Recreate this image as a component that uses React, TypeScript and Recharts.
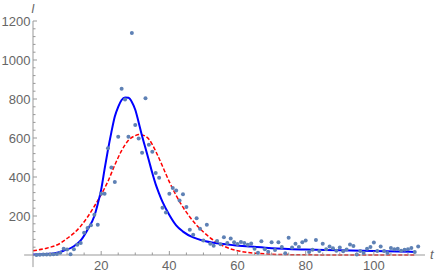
import React from "react";
import { ComposedChart, Line, Scatter, XAxis, YAxis, ReferenceLine } from "recharts";

// reported cases per day, starting at day 1
const dailyCases = [
  0, 1, 2, 2, 3, 4, 5, 12, 32, 28,
  4, 30, 52, 61, 114, 138, 152, 206, 155, 314,
  314, 548, 449, 375, 606, 853, 797, 606, 1138, 667,
  597, 524, 804, 565, 529, 420, 396, 242, 218, 314,
  343, 331, 280, 311, 246, 130, 104, 189, 135, 75,
  155, 58, 48, 72, 55, 91, 62, 85, 66, 57,
  67, 61, 53, 59, 32, 12, 71, 30, 17, 66,
  26, 65, 41, 9, 89, 38, 58, 41, 65, 75,
  15, 27, 77, 20, 58, 30, 44, 35, 22, 38,
  19, 28, 54, 46, 3, 20, 10, 32, 41, 64,
  20, 44, 20, 10, 36, 29, 32, 22, 27, 29,
  36, 15, 44,
];

// solid fit
const solidDays = [0, 3, 6, 9, 12, 14, 16, 18, 19, 20, 21, 22, 23, 24, 25, 26, 27, 28, 29, 30, 31, 32, 33, 34, 35, 36, 37, 38, 40, 42, 44, 47, 50, 54, 59, 64, 70, 80, 90, 100, 112];
const solidFit = [2, 4, 8, 22, 45, 75, 130, 200, 262, 335, 440, 540, 630, 710, 760, 795, 808, 806, 785, 745, 680, 610, 548, 485, 420, 362, 315, 272, 205, 152, 120, 90, 73, 60, 50, 43, 35, 28, 24, 20, 16];

// dashed fit
const dashedDays = [0, 4, 8, 10, 12, 14, 16, 18, 20, 22, 24, 26, 28, 30, 31, 32, 34, 36, 38, 40, 42, 44, 46, 48, 50, 52, 54, 56, 58, 60, 63, 66, 70, 75, 80, 90, 112];
const dashedFit = [22, 35, 60, 85, 112, 148, 195, 250, 310, 378, 462, 535, 588, 612, 618, 616, 594, 532, 455, 375, 305, 245, 195, 153, 118, 88, 63, 45, 31, 22, 13, 8, 4, 2, 1, 0, 0];

const xLabels = [20, 40, 60, 80, 100];
const yLabels = [200, 400, 600, 800, 1000, 1200];
const xTicks = Array.from({ length: 22 }, (_, i) => (i + 1) * 5);
const yTicks = Array.from({ length: 30 }, (_, i) => (i + 1) * 40);

const AXIS = "#999";
const TEXT = "#666";
const FONT = "'Liberation Sans', Arial, sans-serif";

const points = dailyCases.map((v, i) => ({ t: i + 1, v }));
const solidData = solidDays.map((t, i) => ({ t, v: solidFit[i] }));
const dashedData = dashedDays.map((t, i) => ({ t, v: dashedFit[i] }));

const XTick = (props: any) => {
  const { x, y, payload } = props;
  const major = xLabels.includes(payload.value);
  return (
    <g>
      <line x1={x} x2={x} y1={y} y2={y - (major ? 4 : 2.5)} stroke={AXIS} />
      {major && (
        <text x={x} y={y + 15} textAnchor="middle" fill={TEXT} fontSize={13} fontFamily={FONT}>
          {payload.value}
        </text>
      )}
    </g>
  );
};

const YTick = (props: any) => {
  const { x, y, payload } = props;
  const major = yLabels.includes(payload.value);
  return (
    <g>
      <line x1={x} x2={x + (major ? 4 : 2.5)} y1={y} y2={y} stroke={AXIS} />
      {major && (
        <text x={x - 2.5} y={y} dy="0.36em" textAnchor="end" fill={TEXT} fontSize={13} fontFamily={FONT}>
          {payload.value}
        </text>
      )}
    </g>
  );
};

const Dot = (props: any) => <circle cx={props.cx} cy={props.cy} r={2} fill="#5e81b5" />;

export default function App() {
  return (
    <div style={{ position: "absolute", left: 0, top: 0, width: 436, height: 274, background: "#fff" }}>
      <ComposedChart width={436} height={274} margin={{ top: 21, right: 11, left: 0, bottom: 0 }}>
        <XAxis
          type="number"
          dataKey="t"
          domain={[0, 115]}
          ticks={xTicks}
          interval={0}
          height={19}
          tickSize={0}
          tickMargin={0}
          tickLine={false}
          axisLine={{ stroke: AXIS }}
          tick={<XTick />}
          label={{
            content: (p: any) => (
              <text
                x={p.viewBox.x + p.viewBox.width + 5}
                y={p.viewBox.y + 3.5}
                fill={TEXT}
                fontSize={13}
                fontStyle="italic"
                fontFamily={FONT}
              >
                t
              </text>
            ),
          }}
        />
        <YAxis
          type="number"
          domain={[0, 1200]}
          ticks={yTicks}
          interval={0}
          width={33}
          tickSize={0}
          tickMargin={0}
          tickLine={false}
          axisLine={{ stroke: AXIS }}
          tick={<YTick />}
          label={{
            content: (p: any) => (
              <text
                x={p.viewBox.x + p.viewBox.width}
                y={p.viewBox.y - 8}
                textAnchor="middle"
                fill={TEXT}
                fontSize={12}
                fontStyle="italic"
                fontFamily={FONT}
              >
                I
              </text>
            ),
          }}
        />
        {/* axis stubs past the origin, as in the original */}
        <ReferenceLine segment={[{ x: 0, y: -62 }, { x: 0, y: 0 }]} stroke={AXIS} ifOverflow="visible" />
        <ReferenceLine segment={[{ x: -2.6, y: 0 }, { x: 0, y: 0 }]} stroke={AXIS} ifOverflow="visible" />
        <Scatter data={points} dataKey="v" shape={<Dot />} isAnimationActive={false} />
        <Line
          data={dashedData}
          dataKey="v"
          type="monotone"
          stroke="#ff0000"
          strokeWidth={1.5}
          strokeDasharray="4 2"
          dot={false}
          isAnimationActive={false}
        />
        <Line
          data={solidData}
          dataKey="v"
          type="monotone"
          stroke="#0000ff"
          strokeWidth={2}
          dot={false}
          isAnimationActive={false}
        />
      </ComposedChart>
    </div>
  );
}
